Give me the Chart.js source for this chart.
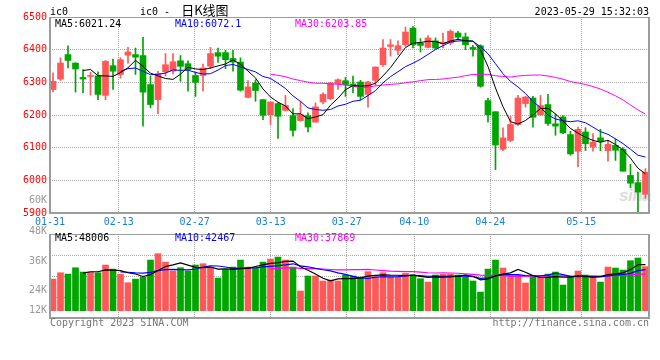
<!DOCTYPE html>
<html><head><meta charset="utf-8">
<script src="https://cdn.jsdelivr.net/npm/chart.js@4/dist/chart.umd.min.js"></script>
<style>
html,body{margin:0;padding:0;background:#fff;}
#wrap{position:relative;width:660px;height:360px;overflow:hidden;font-family:"DejaVu Sans Mono",monospace;}
canvas{position:absolute;left:0;z-index:1;}
.t{position:absolute;white-space:nowrap;font-size:10px;line-height:12px;z-index:2;}
#wm{position:absolute;left:619px;top:186px;font:italic bold 17px "Liberation Sans",sans-serif;color:#dcdcdc;z-index:0;letter-spacing:-0.5px;}
</style></head><body>
<div id="wrap">
  <div id="wm">sina</div>
  <canvas id="pc" width="660" height="232" style="top:0"></canvas>
  <canvas id="vc" width="660" height="100" style="top:228px"></canvas>
</div>
<script>
// ---- data ----
const dateTickLabels = ['01-31','02-13','02-27','03-13','03-27','04-10','04-24','05-15'];
const dateTickPos = [-0.4, 8.76, 18.89, 29.03, 39.16, 48.17, 58.31, 70.44];
const priceTicks = [5900, 6000, 6100, 6200, 6300, 6400, 6500];
const volTickLabels = ['60K','48K','36K','24K','12K'];

const open = [6278,6310,6385,6359,6315,6318,6320,6260,6351,6324, 6383,6385,6382,6293,6247,6332,6334,6366,6357,6321,
  6321,6349,6391,6391,6373,6362,6254,6298,6247,6201, 6235,6214,6198,6183,6198,6178,6240,6250,6296,6305,
  6295,6301,6263,6306,6354,6410,6398,6415,6466,6420, 6407,6427,6418,6420,6451,6439,6407,6412,6244,6210,
  6095,6122,6171,6235,6252,6201,6232,6173,6194,6140, 6089,6148,6102,6130,6091,6107,6095,6015,5993,5957];
const high = [6329,6375,6412,6360,6339,6331,6332,6367,6371,6375, 6407,6405,6438,6319,6334,6388,6388,6382,6366,6332,
  6356,6407,6405,6398,6398,6375,6305,6308,6247,6240, 6237,6260,6220,6242,6207,6237,6268,6300,6311,6315,
  6319,6306,6303,6347,6431,6431,6427,6469,6471,6434, 6443,6436,6451,6461,6456,6451,6413,6415,6252,6210,
  6161,6196,6260,6257,6257,6260,6263,6203,6198,6150, 6163,6161,6143,6156,6122,6127,6100,6049,6025,6036];
const low = [6271,6306,6344,6270,6268,6261,6247,6247,6278,6313, 6359,6324,6166,6222,6204,6319,6326,6303,6273,6257,
  6273,6342,6361,6342,6334,6273,6252,6242,6186,6171, 6128,6212,6135,6181,6148,6178,6234,6247,6278,6257,
  6268,6247,6224,6291,6349,6380,6385,6410,6405,6393, 6405,6402,6405,6415,6431,6400,6380,6285,6178,6033,
  6091,6118,6168,6224,6163,6199,6168,6138,6143,6077, 6041,6091,6089,6091,6059,6061,6028,5977,5903,5944];
const close = [6303,6359,6367,6341,6310,6320,6263,6364,6334,6369, 6393,6377,6270,6232,6326,6354,6363,6349,6339,6300,
  6344,6388,6380,6369,6362,6276,6286,6275,6199,6240, 6196,6229,6153,6201,6163,6225,6263,6298,6308,6293,
  6288,6257,6301,6347,6405,6415,6412,6454,6415,6413, 6436,6405,6423,6456,6438,6415,6401,6288,6201,6108,
  6130,6171,6252,6255,6193,6229,6174,6166,6145,6081, 6156,6112,6117,6118,6110,6092,6028,5991,5964,6025];
const volume = [32900,39500,38100,44700,40200,40200,39500,47500,43300,38100, 29100,32900,34700,52700,59300,50600,41300,44700,41300,47500,
  48900,44700,34000,42300,45400,52700,45400,44000,50600,53700, 55800,52700,45400,20500,36100,36100,30900,31900,30900,37100,
  36100,35000,40600,35000,39500,34700,34700,38800,37100,33300, 29800,37100,37800,38100,37100,35000,30900,19400,43300,52700,
  44400,37100,37100,28800,35000,34700,38100,40200,26700,35000, 41300,37100,34700,29800,45400,44400,42300,52000,54800,45800];

// ---- texts ----
const headerLeft = 'ic0';
const titleLatin = 'ic0 - ';
const titleCJK = '日K线图';
const stamp = '2023-05-29 15:32:03';
const priceLegend = ['MA5:6021.24','MA10:6072.1','MA30:6203.85'];
const volLegend = ['MA5:48006','MA10:42467','MA30:37869'];
const footLeft = 'Copyright 2023 SINA.COM';
const footRight = 'http://finance.sina.com.cn';

// ---- styles ----
const FONT = '"DejaVu Sans Mono", monospace';
const UP = '#ff5858', DOWN = '#00a600';
const GRID = '#a9a9a9', FRAME = '#9c9c9c';
const MA_COLORS = ['#000000', '#0000ff', '#ff00ff'];
const MA_N = [5, 10, 30];
const X_MIN = -0.4, X_MAX = 79.47;

const idx = close.map((_, i) => i);
const colors = idx.map(i => close[i] >= open[i] ? UP : DOWN);

function movingAvg(arr, n) {
  const out = [];
  for (let i = n - 1; i < arr.length; i++) {
    let s = 0;
    for (let j = i - n + 1; j <= i; j++) s += arr[j];
    out.push({x: i, y: s / n});
  }
  return out;
}

const frame = {
  id: 'frame',
  afterDatasetsDraw(chart) {
    const {ctx, chartArea: a} = chart;
    ctx.save();
    ctx.strokeStyle = FRAME;
    ctx.lineWidth = 1;
    ctx.beginPath(); ctx.moveTo(a.left, a.top + 0.5); ctx.lineTo(a.right, a.top + 0.5); ctx.stroke();
    ctx.lineWidth = 2;
    ctx.beginPath();
    ctx.moveTo(a.left, a.top); ctx.lineTo(a.left, a.bottom); ctx.lineTo(a.right, a.bottom); ctx.lineTo(a.right, a.top);
    ctx.stroke();
    ctx.restore();
  }
};

function xScale(showLabels) {
  return {
    type: 'linear', min: X_MIN, max: X_MAX, offset: false,
    afterBuildTicks: s => { s.ticks = dateTickPos.map(v => ({value: v})); },
    grid: {offset: false, color: GRID, lineWidth: 1, drawTicks: false},
    border: {display: false, dash: [1, 1]},
    ticks: {display: showLabels, autoSkip: false, maxRotation: 0, minRotation: 0, padding: 3,
      color: '#1a7fd6', font: {family: FONT, size: 10}, callback: (v, i) => dateTickLabels[i]},
    afterFit: s => { s.height = showLabels ? 19 : 0; }
  };
}

const common = {
  responsive: false, animation: false, devicePixelRatio: 1, events: [],
  plugins: {legend: {display: false}, tooltip: {enabled: false}, title: {display: false}}
};

// ---- price chart ----
new Chart(document.getElementById('pc'), {
  type: 'bar',
  data: {
    datasets: [
      ...MA_N.map((n, k) => ({type: 'line', data: movingAvg(close, n), borderColor: MA_COLORS[k], borderWidth: 1,
        pointRadius: 0, tension: 0, fill: false, order: k})),
      {type: 'bar', data: idx.map(i => ({x: i, y: [open[i], close[i]]})), backgroundColor: colors,
        barThickness: 6, grouped: false, minBarLength: 1, order: 5},
      {type: 'bar', data: idx.map(i => ({x: i, y: [low[i], high[i]]})), backgroundColor: colors,
        barThickness: 1, grouped: false, order: 6}
    ]
  },
  options: {
    ...common,
    layout: {padding: {top: 17, right: 11, left: 0, bottom: 0}},
    scales: {
      x: xScale(true),
      y: {
        type: 'linear', min: 5900, max: 6500, beginAtZero: false,
        afterBuildTicks: s => { s.ticks = priceTicks.map(v => ({value: v})); },
        grid: {color: GRID, drawTicks: false}, border: {display: false, dash: [1, 1]},
        ticks: {color: '#ff0000', padding: 3, font: {family: FONT, size: 10}, callback: v => String(v)},
        afterFit: s => { s.width = 50; }
      }
    }
  },
  plugins: [frame]
});

// ---- volume chart ----
const V_MIN = -7600, V_MAX = 79800;
new Chart(document.getElementById('vc'), {
  type: 'bar',
  data: {
    datasets: [
      ...MA_N.map((n, k) => ({type: 'line', data: movingAvg(volume, n), borderColor: MA_COLORS[k], borderWidth: 1.2,
        pointRadius: 0, tension: 0, fill: false, order: k})),
      {type: 'bar', data: idx.map(i => ({x: i, y: volume[i]})), backgroundColor: colors,
        barThickness: 6, grouped: false, order: 5}
    ]
  },
  options: {
    ...common,
    layout: {padding: {top: 6, right: 11, left: 0, bottom: 10}},
    scales: {
      x: xScale(false),
      y: {
        type: 'linear', min: V_MIN, max: V_MAX, beginAtZero: false,
        afterBuildTicks: s => { s.ticks = [0, 1, 2, 3, 4].map(k => ({value: V_MIN + (V_MAX - V_MIN) * k / 4})); },
        grid: {color: GRID, drawTicks: false}, border: {display: false, dash: [1, 1]},
        ticks: {display: false},
        afterFit: s => { s.width = 50; }
      }
    }
  },
  plugins: [frame]
});

// ---- text overlays ----
const wrap = document.getElementById('wrap');
function addText(txt, css) {
  const d = document.createElement('div');
  d.className = 't';
  d.textContent = txt;
  Object.assign(d.style, css);
  wrap.appendChild(d);
  return d;
}
addText(headerLeft, {left: '50px', top: '6px', color: '#000'});
const tdiv = addText('', {left: '140px', top: '4px', color: '#000'});
tdiv.innerHTML = '<span style="font-size:10px">' + titleLatin + '</span><span style="font-family:\'Noto Sans CJK SC\',sans-serif;font-size:13px;margin-left:5px">' + titleCJK + '</span>';
addText(stamp, {right: '11px', top: '6px', color: '#000'});
const legX = [55, 175, 295];
priceLegend.forEach((t, k) => addText(t, {left: legX[k] + 'px', top: '18px', color: MA_COLORS[k]}));
volLegend.forEach((t, k) => addText(t, {left: legX[k] + 'px', top: '232px', color: MA_COLORS[k]}));
const volLabelTop = [194, 224.5, 254.7, 284, 304.3];
volTickLabels.forEach((t, k) => addText(t, {right: '613px', top: volLabelTop[k] + 'px', color: '#999'}));
addText(footLeft, {left: '50px', top: '317px', color: '#777'});
addText(footRight, {right: '11px', top: '317px', color: '#777'});
</script>
</body></html>
